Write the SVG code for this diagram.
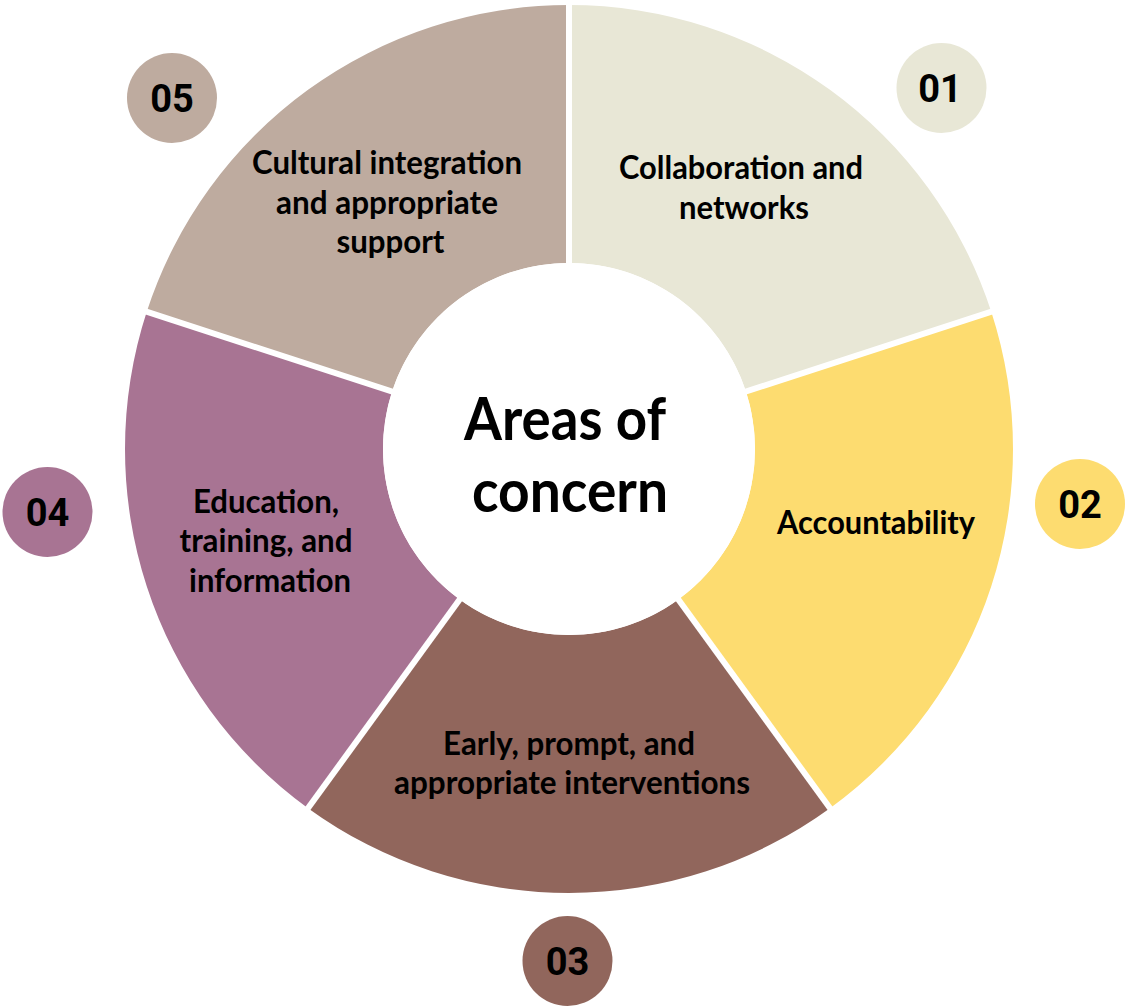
<svg xmlns="http://www.w3.org/2000/svg" width="1126" height="1006" viewBox="0 0 1126 1006">
  <style>
    .seg-label { font-family: Lato, "Liberation Sans", sans-serif; font-weight: 700; font-size: 32px; fill: #000; text-anchor: middle; }
    .badge-num { font-family: Roboto, "Liberation Sans", sans-serif; font-weight: 700; font-size: 38px; fill: #000; text-anchor: middle; }
    .hub-label { font-family: Lato, "Liberation Sans", sans-serif; font-weight: 700; font-size: 60px; fill: #000; text-anchor: middle; }
    .gap { stroke: #fff; stroke-width: 6; }
  </style>
  <rect width="1126" height="1006" fill="#fff"/>

  <!-- ring centre (569, 449), outer radius 444, inner radius 186 -->
  <g id="area-01">
    <path d="M569 5 A444 444 0 0 1 991.27 311.80 L745.90 391.52 A186 186 0 0 0 569 263 Z" fill="#E8E7D6"/>
    <circle cx="941.5" cy="88" r="45" fill="#E8E7D6"/>
    <text class="badge-num" x="940" y="102">01</text>
    <text class="seg-label" x="741" y="179" textLength="244" lengthAdjust="spacingAndGlyphs">Collaboration and</text>
    <text class="seg-label" x="744" y="219" textLength="130" lengthAdjust="spacingAndGlyphs">networks</text>
  </g>

  <g id="area-02">
    <path d="M991.27 311.80 A444 444 0 0 1 829.98 808.20 L678.33 599.48 A186 186 0 0 0 745.90 391.52 Z" fill="#FDDC70"/>
    <circle cx="1080" cy="504" r="45" fill="#FDDC70"/>
    <text class="badge-num" x="1080" y="518">02</text>
    <text class="seg-label" x="876" y="534" textLength="198" lengthAdjust="spacingAndGlyphs">Accountability</text>
  </g>

  <g id="area-03">
    <path d="M829.98 808.20 A444 444 0 0 1 308.02 808.20 L459.67 599.48 A186 186 0 0 0 678.33 599.48 Z" fill="#91665C"/>
    <circle cx="567.5" cy="961" r="45" fill="#91665C"/>
    <text class="badge-num" x="567.5" y="975">03</text>
    <text class="seg-label" x="569" y="755" textLength="252" lengthAdjust="spacingAndGlyphs">Early, prompt, and</text>
    <text class="seg-label" x="572" y="794" textLength="356" lengthAdjust="spacingAndGlyphs">appropriate interventions</text>
  </g>

  <g id="area-04">
    <path d="M308.02 808.20 A444 444 0 0 1 146.73 311.80 L392.10 391.52 A186 186 0 0 0 459.67 599.48 Z" fill="#A87493"/>
    <circle cx="47.5" cy="512" r="45" fill="#A87493"/>
    <text class="badge-num" x="47.5" y="526">04</text>
    <text class="seg-label" x="266" y="513" textLength="146" lengthAdjust="spacingAndGlyphs">Education,</text>
    <text class="seg-label" x="266" y="552" textLength="173" lengthAdjust="spacingAndGlyphs">training, and</text>
    <text class="seg-label" x="270" y="592" textLength="162" lengthAdjust="spacingAndGlyphs">information</text>
  </g>

  <g id="area-05">
    <path d="M146.73 311.80 A444 444 0 0 1 569 5 L569 263 A186 186 0 0 0 392.10 391.52 Z" fill="#BEAB9F"/>
    <circle cx="172" cy="98" r="45" fill="#BEAB9F"/>
    <text class="badge-num" x="172" y="112">05</text>
    <text class="seg-label" x="387" y="174" textLength="270" lengthAdjust="spacingAndGlyphs">Cultural integration</text>
    <text class="seg-label" x="387" y="214" textLength="222" lengthAdjust="spacingAndGlyphs">and appropriate</text>
    <text class="seg-label" x="390.5" y="253" textLength="108" lengthAdjust="spacingAndGlyphs">support</text>
  </g>

  <!-- white separators between the ring segments -->
  <g id="separators">
    <line class="gap" x1="569" y1="449" x2="569" y2="0"/>
    <line class="gap" x1="569" y1="449" x2="1000.78" y2="308.71"/>
    <line class="gap" x1="569" y1="449" x2="835.86" y2="816.29"/>
    <line class="gap" x1="569" y1="449" x2="302.14" y2="816.29"/>
    <line class="gap" x1="569" y1="449" x2="137.22" y2="308.71"/>
  </g>

  <g id="hub">
    <circle cx="569" cy="449" r="186" fill="#fff"/>
    <text class="hub-label" x="565" y="440" textLength="202" lengthAdjust="spacingAndGlyphs">Areas of</text>
    <text class="hub-label" x="570" y="512" textLength="196" lengthAdjust="spacingAndGlyphs">concern</text>
  </g>
</svg>
